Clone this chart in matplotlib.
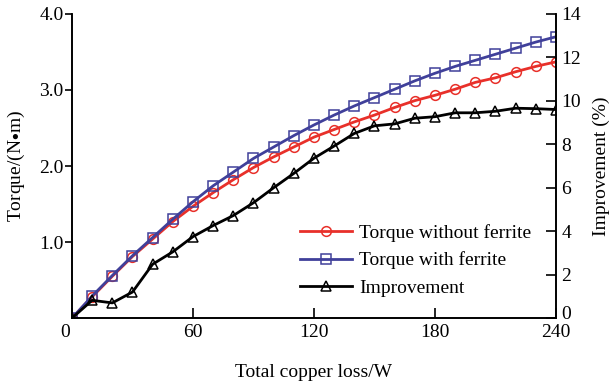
import numpy as np
import matplotlib as mpl
mpl.use( 'Agg' )
import matplotlib.pyplot as plt
from matplotlib.transforms import ScaledTranslation

plt.rcParams['font.family'] = ['Liberation Serif', 'DejaVu Serif']
plt.rcParams['mathtext.fontset'] = 'stix'

# data
copper_loss = list( range( 0, 250, 10 ) )
torque_without = [ 0.0, 0.28, 0.55, 0.81, 1.04, 1.27, 1.47, 1.65, 1.82, 1.98, 2.12, 2.25, 2.38,
                   2.48, 2.58, 2.67, 2.77, 2.86, 2.93, 3.01, 3.10, 3.16, 3.24, 3.31, 3.37 ]
torque_with = [ 0.0, 0.29, 0.56, 0.82, 1.06, 1.30, 1.53, 1.74, 1.92, 2.10, 2.25, 2.40, 2.54,
                2.67, 2.79, 2.90, 3.01, 3.12, 3.22, 3.31, 3.39, 3.47, 3.55, 3.63, 3.70 ]
improvement = [ 0.0, 0.82, 0.70, 1.20, 2.48, 3.05, 3.75, 4.26, 4.72, 5.31, 6.00, 6.66, 7.36,
                7.92, 8.50, 8.85, 8.94, 9.20, 9.27, 9.45, 9.45, 9.52, 9.66, 9.64, 9.60 ]

x_ticks = [ 0, 60, 120, 180, 240 ]
left_ticks = [ 1.0, 2.0, 3.0, 4.0 ]
right_ticks = list( range( 0, 16, 2 ) )

RED = '#e8302a'
BLUE = '#40409a'
FS = 14

fig = plt.figure( figsize = ( 6.12, 3.87 ), dpi = 100 )
ax = fig.add_axes( [ 0.1176, 0.178, 0.7909, 0.786 ] )
ax2 = ax.twinx()

l1, = ax.plot( copper_loss, torque_without, color = RED, lw = 2, marker = 'o', ms = 7,
               mfc = 'none', mec = RED, mew = 1.1, label = 'Torque without ferrite' )
l2, = ax.plot( copper_loss, torque_with, color = BLUE, lw = 2, marker = 's', ms = 7,
               mfc = 'none', mec = BLUE, mew = 1.1, label = 'Torque with ferrite' )
l3, = ax2.plot( copper_loss, improvement, color = 'black', lw = 2, marker = '^', ms = 7.5,
                mfc = 'none', mec = 'black', mew = 1.1, label = 'Improvement' )

ax.set_xlim( 0, 240 )
ax.set_ylim( 0, 4.0 )
ax2.set_ylim( 0, 14 )

ax.set_xticks( x_ticks )
ax.set_yticks( left_ticks )
ax.set_yticklabels( [ '%.1f' % t for t in left_ticks ] )
ax2.set_yticks( right_ticks )

for a in ( ax, ax2 ):
    a.spines['top'].set_visible( False )
    for s in a.spines.values():
        s.set_linewidth( 1.2 )
ax.tick_params( axis = 'x', direction = 'in', length = 7, width = 1.2, labelsize = FS, pad = 4 )
ax.tick_params( axis = 'y', direction = 'out', length = 5, width = 1.2, labelsize = FS, pad = 1 )
ax2.tick_params( axis = 'y', direction = 'in', length = 7, width = 1.2, labelsize = FS, pad = 4 )

# the 0 labels sit a little off their ticks in the reference
x0 = ax.get_xticklabels()[0]
x0.set_transform( x0.get_transform() + ScaledTranslation( -5 / 72, 0, fig.dpi_scale_trans ) )
r0 = ax2.get_yticklabels()[0]
r0.set_transform( r0.get_transform() + ScaledTranslation( 0, 4 / 72, fig.dpi_scale_trans ) )

ax.set_xlabel( 'Total copper loss/W', fontsize = FS, labelpad = 17 )
ax.set_ylabel( 'Torque/(N$\\bullet$m)', fontsize = FS, labelpad = 9 )
ax2.set_ylabel( 'Improvement (%)', fontsize = FS, labelpad = 8 )

ax.legend( handles = [ l1, l2, l3 ], loc = 'lower left', bbox_to_anchor = ( 0.471, 0.07 ),
           frameon = False, fontsize = FS, handlelength = 2.7, handletextpad = 0.35,
           labelspacing = 0.5, borderaxespad = 0, borderpad = 0 )

fig.savefig( 'out.png', dpi = 100 )
